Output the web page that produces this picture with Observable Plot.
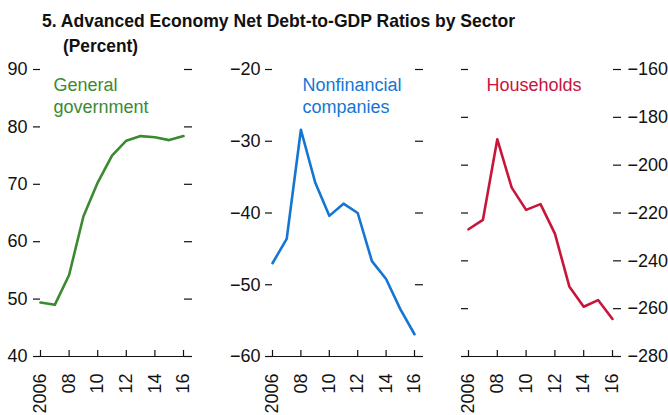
<!DOCTYPE html>
<html><head><meta charset="utf-8">
<script src="https://cdn.jsdelivr.net/npm/d3@7"></script>
<script src="https://cdn.jsdelivr.net/npm/@observablehq/plot@0.6"></script>
<style>
body{margin:0;background:#fff;}
#wrap{position:relative;width:668px;height:415px;overflow:hidden;font-family:"Liberation Sans",Arial,sans-serif;}
.t{position:absolute;font-family:"Liberation Sans",Arial,sans-serif;font-weight:bold;font-size:19px;color:#111;white-space:nowrap;line-height:1;transform-origin:0 0;}
.p{position:absolute;top:0;}
</style></head>
<body>
<div id="wrap">
  <div class="t" id="t1" style="left:42px;top:10.6px;" data-w="473">5. Advanced Economy Net Debt-to-GDP Ratios by Sector</div>
  <div class="t" id="t2" style="left:63px;top:35.6px;" data-w="75">(Percent)</div>
</div>
<script>
const years = [2006, 2007, 2008, 2009, 2010, 2011, 2012, 2013, 2014, 2015, 2016];
const govt = [49.4, 49.0, 54.2, 64.4, 70.3, 75.0, 77.6, 78.4, 78.2, 77.7, 78.4];
const nonfin = [-47.0, -43.6, -28.4, -35.7, -40.4, -38.7, -40.0, -46.7, -49.2, -53.4, -56.9];
const households = [-226.8, -222.9, -189.2, -209.4, -218.7, -216.3, -228.6, -250.7, -259.2, -256.4, -264.3];
const xTicks = [2006, 2008, 2010, 2012, 2014, 2016];
const xTickLabels = ["2006", "08", "10", "12", "14", "16"];
const panels = [
  {name: "General\ngovernment", values: govt, color: "#3b8a32", yDomain: [40, 90], yTicks: [40, 50, 60, 70, 80, 90],
   left: 0, width: 222, ml: 40, mr: 39, leftLabels: true, rightLabels: false, ldx: 13, lpad: 6},
  {name: "Nonfinancial\ncompanies", values: nonfin, color: "#1476d2", yDomain: [-60, -20], yTicks: [-60, -50, -40, -30, -20],
   left: 222, width: 223, ml: 50, mr: 31, leftLabels: true, rightLabels: false, ldx: 30, lpad: 5},
  {name: "Households", values: households, color: "#c8153a", yDomain: [-280, -160], yTicks: [-280, -260, -240, -220, -200, -180, -160],
   left: 445, width: 223, ml: 23, mr: 56, leftLabels: false, rightLabels: true, ldx: 18, lpad: 5}
];
// fit title lines to the reference widths (condensed face)
for (const el of document.querySelectorAll(".t")) {
  const w = el.getBoundingClientRect().width;
  el.style.transform = `scaleX(${(+el.dataset.w) / w})`;
}
const fmt = d3.format("d");
const wrap = document.getElementById("wrap");
for (const p of panels) {
  const data = years.map((y, i) => ({year: y, value: p.values[i]}));
  const chart = Plot.plot({
    width: p.width, height: 415,
    marginTop: 69, marginBottom: 59, marginLeft: p.ml, marginRight: p.mr,
    style: {fontFamily: "'Liberation Sans', Arial, sans-serif", fontSize: "18px", color: "#111", background: "transparent", overflow: "visible"},
    x: {domain: [2006, 2016], label: null},
    y: {domain: p.yDomain, label: null},
    marks: [
      Plot.axisY({anchor: "left", ticks: p.yTicks, tickSize: 7, tickPadding: p.lpad, label: null,
        tickFormat: p.leftLabels ? fmt : () => "", strokeWidth: 1.2}),
      Plot.axisY({anchor: "right", ticks: p.yTicks, tickSize: 8, tickPadding: 7, label: null,
        tickFormat: p.rightLabels ? fmt : () => "", strokeWidth: 1.2}),
      Plot.axisX({anchor: "bottom", ticks: xTicks, tickSize: -6, tickPadding: 23, tickRotate: -90, label: null,
        tickFormat: d => xTickLabels[xTicks.indexOf(d)], strokeWidth: 1.2}),
      Plot.ruleY([p.yDomain[0]], {insetLeft: -7, insetRight: -9, stroke: "#111", strokeWidth: 1.2}),
      Plot.line(data, {x: "year", y: "value", stroke: p.color, strokeWidth: 2.6}),
      Plot.text([p.name], {frameAnchor: "top-left", text: d => d, textAnchor: "start", lineAnchor: "top",
        dx: p.ldx, dy: 6, lineHeight: 1.22, fill: p.color, fontSize: 18})
    ]
  });
  chart.classList.add("p");
  chart.style.left = p.left + "px";
  wrap.appendChild(chart);
}
</script>
</body></html>
